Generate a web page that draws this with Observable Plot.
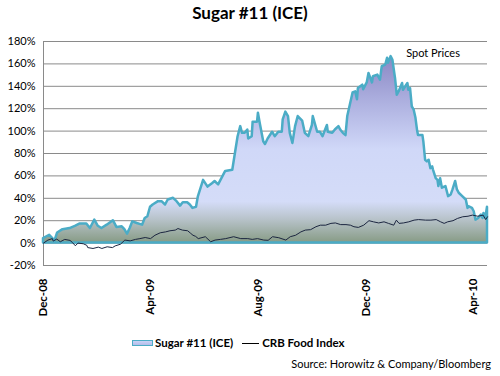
<!DOCTYPE html>
<html><head><meta charset="utf-8">
<script src="https://cdn.jsdelivr.net/npm/d3@7"></script>
<script src="https://cdn.jsdelivr.net/npm/@observablehq/plot@0.6"></script>
<style>
body{margin:0;background:#fff;font-family:Lato,"Open Sans",sans-serif;color:#000;}
#wrap{position:relative;width:500px;height:376px;overflow:hidden;background:#fff;}
#title{position:absolute;top:4px;left:0;width:500px;text-align:center;font-weight:bold;font-size:17px;line-height:17px;}
#chart{position:absolute;top:30px;left:0;}
#legend{position:absolute;top:335px;left:132px;display:flex;align-items:center;font-weight:bold;font-size:11.5px;line-height:16px;white-space:nowrap;}
#legend .sw{display:inline-block;width:19px;height:4px;border:1.5px solid #4bacc6;background:linear-gradient(#c9d2f6,#b4bde9);}
#legend .ln{display:inline-block;width:17px;height:1px;background:#000;margin-left:9px;margin-right:3px;}
#source{position:absolute;top:357px;right:9px;font-size:11px;line-height:14px;white-space:nowrap;}
</style></head>
<body>
<div id="wrap">
  <div id="title">Sugar #11 (ICE)</div>
  <div id="chart"></div>
  <div id="legend"><span class="sw"></span><span style="margin-left:2px">Sugar #11 (ICE)</span><span class="ln"></span><span>CRB Food Index</span></div>
  <div id="source">Source: Horowitz &amp; Company/Bloomberg</div>
</div>
<script>
// Days since 2008-12-01 and percent change
const startDate = "2008-12-01";
const sugarDay = [0,7,13,16,22,30,36,41,49,53,58,62,66,72,79,83,89,92,95,98,101,106,112,115,118,121,124,130,134,138,141,147,151,155,158,163,166,169,173,175,181,186,191,194,198,202,206,214,217,220,223,225,228,231,232,236,237,242,243,245,249,251,254,259,262,266,270,271,274,277,279,282,285,288,293,296,300,304,305,310,313,316,319,321,322,327,330,334,336,339,342,344,350,353,355,356,361,362,366,368,372,373,378,381,383,387,389,390,393,395,398,400,402,406,407,412,413,415,417,419,421,423,424,429,430,432,434,436,438,440,441,444,446,447,449,451,455,458,461,463,466,468,470,474,478,480,481,485,487,489,492,495,497,498,500,502];
const sugarPct = [4,7,2,9,12,13,15,17,17,13,20.5,15,13,16,20,14,14.5,12,8,13,19,17.5,16,22,23.5,32,34,37,37,34,38.5,40,37,33,36,36,34,31,32,41,56,50,53,55,52,58,64,65,80,95,104,98,98,101,93,95,108,108,116,107,90.5,88,93,99,95,99,99,110,117,113,98,89,104,113,109,98,95,105,113,99,99,95,101,105,99,98,101,104,101,98,96,113,134,135,128,138,141,137,143,151.5,143,148.5,150,145.5,157.5,159,165,160.5,166.5,163.5,147,132,135,142.5,136.5,142.5,136.5,138,121.5,119,112,100,96,96,90.5,74,72.5,74,66.5,68,65,57.5,56,50.5,57.5,49,50.5,41.5,43,47.5,55,47.5,44.5,41.5,38.5,31,32.5,31,28,20.5,22,25,22,26.5,22,32];
const crbDay = [0,5,10,11,15,19,24,30,33,36,39,45,49,50,56,62,66,72,78,81,87,92,98,104,109,115,121,126,132,138,143,149,152,157,163,166,169,172,175,183,189,194,200,206,215,223,231,236,242,249,254,259,266,274,279,285,291,296,302,308,313,319,325,330,336,342,347,351,356,362,368,373,379,385,390,396,399,402,407,413,419,424,432,438,444,449,453,457,463,468,474,480,485,491,497,500,502];
const crbPct = [0,2.7,4,1.8,3.6,1.2,3.3,2.4,0.3,-2.4,0,-0.6,-2,-4,-4.8,-3.6,-4.8,-3.3,-4,-2.5,-1,2.7,2,3.3,4,5,4,7,9.2,10,11,11.6,13,11.6,11,9,7,6,4,5.7,1.2,2.7,3.3,4,5.7,4,4,3.3,4,2.7,2.5,5.7,4.8,2.7,5.7,7,10,11.6,12,14.6,16,16,17.6,18,16.5,16.5,16,14.6,14,16,20,19,18,19,17.6,16,20.5,17.6,18,19,20.5,21,20.5,20.5,21,19,17.6,19,20,22,23.5,24,25,24,25,21,23.5];
const yTicks = [-20,0,20,40,60,80,100,120,140,160,180];
const xTickDates = ["2008-12-01","2009-04-01","2009-08-01","2009-12-01","2010-04-01"];
const annotations = [{label:"Spot Prices", day:410, pct:169}];

const start = new Date(startDate);
const toDate = d => d3.utcDay.offset(start, d);
const sugar = sugarDay.map((d,i)=>({date:toDate(d), pct:sugarPct[i]}));
const crb = crbDay.map((d,i)=>({date:toDate(d), pct:crbPct[i]}));
const xDomain = [start, toDate(sugarDay[sugarDay.length-1])];
const notes = annotations.map(a=>({label:a.label, date:toDate(a.day), pct:a.pct}));

const svg = Plot.plot({
  width: 500,
  height: 290,
  marginLeft: 43,
  marginRight: 13,
  marginTop: 11,
  marginBottom: 55,
  style: {fontFamily: "Lato, 'Open Sans', sans-serif", fontSize: "11px", color: "#000", background: "transparent"},
  x: {type: "utc", domain: xDomain},
  y: {domain: [-20, 180]},
  marks: [
    Plot.ruleY(yTicks, {stroke: "#8a8a8a", strokeWidth: 1}),
    Plot.ruleX([xDomain[0]], {y1: -20, y2: 180, stroke: "#8a8a8a", strokeWidth: 1}),
    Plot.areaY(sugar, {x: "date", y: "pct", fill: "url(#sugarGrad)", stroke: "#4bacc6", strokeWidth: 2.5, strokeLinejoin: "round"}),
    Plot.lineY(crb, {x: "date", y: "pct", stroke: "#1c2640", strokeWidth: 1}),
    Plot.text(notes, {x: "date", y: "pct", text: "label", textAnchor: "start", fontSize: 11, fill: "#000"}),
    Plot.axisY({ticks: yTicks, tickFormat: d => d + "%", tickSize: 0, tickPadding: 8, label: null, fontSize: 11}),
    Plot.axisX({ticks: xTickDates.map(s => new Date(s)), tickFormat: d3.utcFormat("%b-%y"), tickSize: 0, tickPadding: 13, tickRotate: -90, label: null, fontWeight: "bold", fontSize: 11.5})
  ]
});

const defs = d3.select(svg).insert("defs", ":first-child");
const g = defs.append("linearGradient").attr("id", "sugarGrad").attr("x1", 0).attr("y1", 0).attr("x2", 0).attr("y2", 1);
[[0,"#8a87c4"],[0.25,"#aeb1e0"],[0.5,"#d0d8f8"],[0.78,"#d4dcf8"],[0.87,"#b9c4cc"],[1,"#879b85"]].forEach(([o,c]) => g.append("stop").attr("offset", o).attr("stop-color", c));

document.getElementById("chart").appendChild(svg);
</script>
</body></html>
